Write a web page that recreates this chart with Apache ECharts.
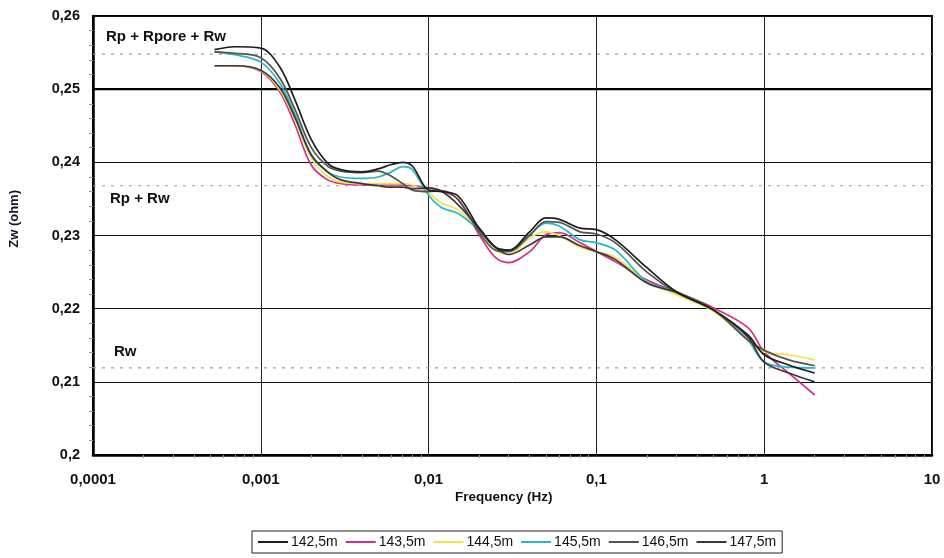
<!DOCTYPE html>
<html>
<head>
<meta charset="utf-8">
<script src="https://cdn.jsdelivr.net/npm/echarts@6/dist/echarts.min.js"></script>
<style>html,body{margin:0;padding:0;background:#fff}#c{width:944px;height:558px}</style>
</head>
<body>
<div id="c"></div>
<script>
// Frequencies (Hz)
const freq = [0.00053,0.0007,0.001,0.0013,0.0016,0.002,0.0025,0.003,0.004,0.005,0.006,0.007,0.008,0.01,0.012,0.015,0.02,0.025,0.03,0.04,0.05,0.06,0.08,0.1,0.13,0.2,0.3,0.5,0.8,1,1.4,2];
const seriesNames = ['142,5m','143,5m','144,5m','145,5m','146,5m','147,5m'];
const z1425 = [0.2554,0.2558,0.2556,0.2530,0.2485,0.2431,0.2399,0.2390,0.2387,0.2391,0.2397,0.2400,0.2395,0.2362,0.2360,0.2354,0.2310,0.2284,0.2280,0.2305,0.2324,0.2322,0.2310,0.2308,0.2294,0.2256,0.2223,0.2198,0.2164,0.2137,0.2123,0.2112];
const z1435 = [0.2532,0.2532,0.2524,0.2496,0.2451,0.2396,0.2376,0.2371,0.2369,0.2369,0.2369,0.2369,0.2368,0.2365,0.2361,0.2349,0.2301,0.2270,0.2263,0.2278,0.2301,0.2304,0.2290,0.2278,0.2264,0.2239,0.2223,0.2201,0.2174,0.2141,0.2112,0.2082];
const z1445 = [0.2532,0.2532,0.2525,0.2499,0.2458,0.2406,0.2381,0.2373,0.2371,0.2371,0.2371,0.2371,0.2369,0.2358,0.2344,0.2335,0.2307,0.2280,0.2274,0.2297,0.2305,0.2300,0.2284,0.2278,0.2270,0.2237,0.2219,0.2196,0.2157,0.2141,0.2137,0.2130];
const z1455 = [0.2551,0.2547,0.2537,0.2508,0.2465,0.2410,0.2387,0.2380,0.2378,0.2380,0.2387,0.2394,0.2390,0.2355,0.2338,0.2330,0.2307,0.2284,0.2280,0.2301,0.2317,0.2313,0.2294,0.2290,0.2280,0.2237,0.2223,0.2198,0.2157,0.2127,0.2120,0.2119];
const z1465 = [0.2551,0.2549,0.2543,0.2515,0.2472,0.2420,0.2395,0.2388,0.2386,0.2388,0.2381,0.2371,0.2362,0.2360,0.2361,0.2349,0.2305,0.2280,0.2278,0.2300,0.2319,0.2318,0.2305,0.2302,0.2290,0.2250,0.2222,0.2198,0.2157,0.2143,0.2130,0.2122];
const z1475 = [0.2532,0.2532,0.2526,0.2502,0.2461,0.2410,0.2387,0.2376,0.2371,0.2368,0.2366,0.2366,0.2364,0.2365,0.2360,0.2342,0.2310,0.2284,0.2274,0.2287,0.2298,0.2298,0.2286,0.2278,0.2267,0.2235,0.2222,0.2198,0.2161,0.2127,0.2112,0.2100];
const allValues = [z1425,z1435,z1445,z1455,z1465,z1475];
const colors = ['#1e1e1e','#d42d8c','#f2e44a','#22b9c9','#5a5252','#3e3838'];
// Reference levels
const refNames = ['Rp + Rpore + Rw','Rp + Rw','Rw'];
const refLevels = [0.2548,0.2368,0.2119];
const boldLevel = 0.25;
const xRange = [0.0001, 10];

const chart = echarts.init(document.getElementById('c'), null, {renderer:'canvas'});
const font = 'Liberation Sans, Arial, sans-serif';

const series = [];
refLevels.forEach((v,i)=>{
  series.push({name:'ref'+i, type:'line', symbol:'none', silent:true, z:1,
    lineStyle:{color:'#a09f95', type:[3,6], width:1.2},
    data: xRange.map(x=>[x, v])});
});
series.push({name:'bold', type:'line', symbol:'none', silent:true, z:1,
  lineStyle:{color:'#000', width:2.2}, data: xRange.map(x=>[x, boldLevel])});
seriesNames.forEach((n,i)=>series.push({
  name:n, type:'line', smooth:0.35, symbol:'none',
  lineStyle:{color:colors[i], width:1.7}, itemStyle:{color:colors[i]},
  data: freq.map((f,j)=>[f, allValues[i][j]]),
  z: i===0 ? 10 : 5
}));

chart.setOption({
  animation:false,
  backgroundColor:'#fff',
  grid:{left:93, right:12, top:16, bottom:103, show:true, borderColor:'#000', borderWidth:2},
  legend:{
    data: seriesNames, left:252, top:531, orient:'horizontal',
    itemWidth:30, itemHeight:2, itemGap:8, padding:[4,6],
    borderColor:'#222', borderWidth:1, backgroundColor:'#fff',
    icon:'rect',
    textStyle:{fontFamily:font, fontSize:14, color:'#111', padding:[0,0,0,-2]}
  },
  xAxis:{
    type:'log', logBase:10, min:xRange[0], max:xRange[1],
    axisLine:{show:true, lineStyle:{color:'#000', width:2.5}},
    axisTick:{show:false},
    minorTick:{show:true, splitNumber:9, length:3, lineStyle:{color:'#999'}},
    splitLine:{show:true, lineStyle:{color:'#222', width:1}},
    axisLabel:{margin:17, fontFamily:font, fontWeight:'bold', fontSize:15, color:'#111',
      formatter:v=>String(Number(Number(v).toPrecision(6))).replace('.',',')}
  },
  yAxis:{
    type:'value', min:0.2, max:0.26, interval:0.01,
    axisLine:{show:true, lineStyle:{color:'#000', width:2.5}},
    axisTick:{show:false},
    minorTick:{show:true, splitNumber:5, length:4, lineStyle:{color:'#999'}},
    splitLine:{show:true, lineStyle:{color:'#111', width:1}},
    axisLabel:{margin:13, fontFamily:font, fontWeight:'bold', fontSize:14.5, color:'#111',
      formatter:v=>String(Math.round(v*100)/100).replace('.',',')}
  },
  graphic:[
    {type:'text', left:8, top:190, rotation:Math.PI/2, style:{text:'Zw (ohm)', font:'bold 13px '+font, fill:'#141428'}},
    {type:'text', left:455, top:490, style:{text:'Frequency (Hz)', font:'bold 13.5px '+font, fill:'#111'}},
    {type:'text', left:106, top:29, style:{text:refNames[0], font:'bold 15px '+font, fill:'#111'}},
    {type:'text', left:110, top:191, style:{text:refNames[1], font:'bold 15px '+font, fill:'#111'}},
    {type:'text', left:114, top:344, style:{text:refNames[2], font:'bold 15px '+font, fill:'#111'}}
  ],
  series: series
});
</script>
</body>
</html>
